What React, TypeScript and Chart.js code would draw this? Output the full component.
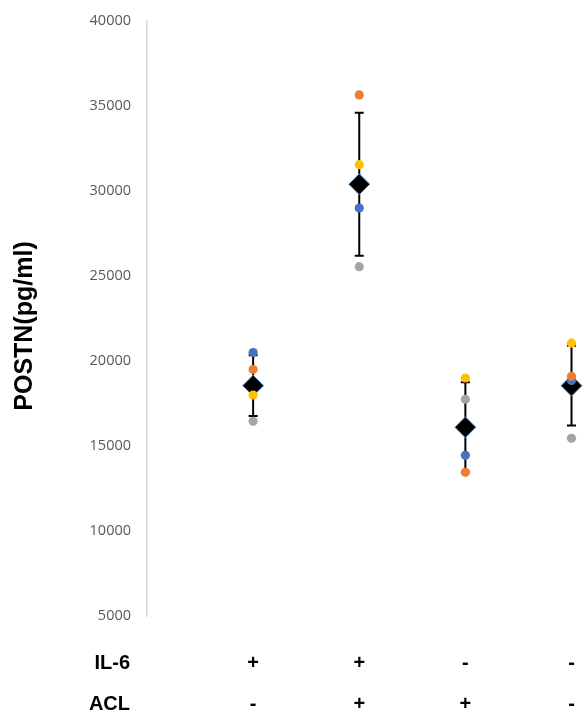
import React, { useEffect, useRef } from "react";
import { Chart, registerables } from "chart.js";

Chart.register(...registerables);

const categories = [1, 2, 3, 4];
const il6Signs = ["+", "+", "-", "-"];
const aclSigns = ["-", "+", "+", "-"];
const rowLabels = ["IL-6", "ACL"];
const yTitle = "POSTN(pg/ml)";

const blueVals = [20500, 29000, 14450, 18850];
const orangeVals = [19500, 35650, 13450, 19100];
const grayVals = [16450, 25550, 17750, 15450];
const yellowVals = [18000, 31550, 19000, 21050];
const meanVals = [18550, 30400, 16100, 18550];
const errVals = [1790, 4210, 2650, 2350];

const yMin = 5000;
const yMax = 40000;
const yStep = 5000;

const toPoints = (vals: number[]) => vals.map((v, i) => ({ x: categories[i], y: v }));

const X_TICK_PAD = 27;
const X_LINE_H = 41;

const errorBarPlugin = {
  id: "errorBars",
  beforeDatasetsDraw(chart: any) {
    const { ctx, scales } = chart;
    const xs = scales.x;
    const ys = scales.y;
    ctx.save();
    ctx.strokeStyle = "#000000";
    ctx.lineWidth = 2;
    meanVals.forEach((m, i) => {
      const px = xs.getPixelForValue(categories[i]);
      const top = ys.getPixelForValue(m + errVals[i]);
      const bot = ys.getPixelForValue(m - errVals[i]);
      ctx.beginPath();
      ctx.moveTo(px, top);
      ctx.lineTo(px, bot);
      ctx.moveTo(px - 4.5, top);
      ctx.lineTo(px + 4.5, top);
      ctx.moveTo(px - 4.5, bot);
      ctx.lineTo(px + 4.5, bot);
      ctx.stroke();
    });
    ctx.restore();
  },
};

const labelsPlugin = {
  id: "extraLabels",
  afterDraw(chart: any) {
    const { ctx, chartArea } = chart;
    ctx.save();
    ctx.translate(25, 326);
    ctx.rotate(-Math.PI / 2);
    ctx.fillStyle = "#000000";
    ctx.font = "bold 25px 'Liberation Sans', Arial, sans-serif";
    ctx.textAlign = "center";
    ctx.textBaseline = "middle";
    ctx.fillText(yTitle, 0, 0);
    ctx.restore();

    ctx.save();
    ctx.fillStyle = "#000000";
    ctx.font = "bold 20px 'Liberation Sans', Arial, sans-serif";
    ctx.textAlign = "right";
    ctx.textBaseline = "middle";
    const base = chartArea.bottom + X_TICK_PAD + X_LINE_H / 2;
    rowLabels.forEach((t, i) => {
      ctx.fillText(t, 130, base + i * X_LINE_H);
    });
    ctx.restore();
  },
};

export default function App() {
  const ref = useRef<HTMLCanvasElement | null>(null);

  useEffect(() => {
    if (!ref.current) return;
    const dot = (label: string, vals: number[], color: string, order: number) => ({
      type: "scatter" as const,
      label,
      data: toPoints(vals),
      backgroundColor: color,
      borderColor: color,
      pointRadius: 4.6,
      pointBorderWidth: 0,
      pointStyle: "circle",
      clip: false,
      order,
    });
    const chart = new Chart(ref.current, {
      type: "scatter",
      data: {
        datasets: [
          dot("Yellow", yellowVals, "#FFC000", 0),
          dot("Gray", grayVals, "#A5A5A5", 1),
          dot("Orange", orangeVals, "#ED7D31", 2),
          dot("Blue", blueVals, "#4472C4", 3),
          {
            type: "scatter",
            label: "Mean",
            data: toPoints(meanVals),
            backgroundColor: "#000000",
            borderColor: "#5B9BD5",
            pointBorderWidth: 1,
            pointRadius: 10.5,
            pointStyle: "rectRot",
            clip: false,
            order: 4,
          },
        ],
      },
      options: {
        responsive: false,
        animation: false,
        layout: { padding: { top: 21, left: 0, right: 0, bottom: 0 } },
        plugins: {
          legend: { display: false },
          tooltip: { enabled: false },
        },
        scales: {
          x: {
            type: "linear",
            min: 0,
            max: 4.0,
            afterBuildTicks: (scale: any) => {
              scale.ticks = categories.map((v) => ({ value: v }));
            },
            afterFit: (scale: any) => {
              scale.height = 96;
              scale.paddingLeft = 0;
              scale.paddingRight = 0;
            },
            grid: { display: false, drawTicks: false },
            border: { display: false },
            ticks: {
              padding: X_TICK_PAD,
              maxRotation: 0,
              autoSkip: false,
              color: "#000000",
              font: { family: "'Liberation Sans', Arial, sans-serif", size: 20, weight: "bold", lineHeight: X_LINE_H / 20 },
              callback: (value: any) => {
                const i = categories.indexOf(Number(value));
                return i >= 0 ? [il6Signs[i], aclSigns[i]] : "";
              },
            },
          },
          y: {
            type: "linear",
            min: yMin,
            max: yMax,
            afterFit: (scale: any) => {
              scale.width = 147;
              scale.paddingTop = 0;
              scale.paddingBottom = 0;
            },
            grid: { display: false, drawTicks: false },
            border: { display: true, color: "#D9D9D9", width: 1.5 },
            ticks: {
              stepSize: yStep,
              padding: 16,
              color: "#595959",
              font: { family: "'Open Sans', sans-serif", size: 14.5 },
              callback: (value: any) => String(value),
            },
          },
        },
      },
      plugins: [errorBarPlugin, labelsPlugin],
    } as any);
    return () => chart.destroy();
  }, []);

  return (
    <div style={{ position: "fixed", left: 0, top: 0, width: 583, height: 712, background: "#ffffff" }}>
      <canvas ref={ref} width={583} height={712} />
    </div>
  );
}
